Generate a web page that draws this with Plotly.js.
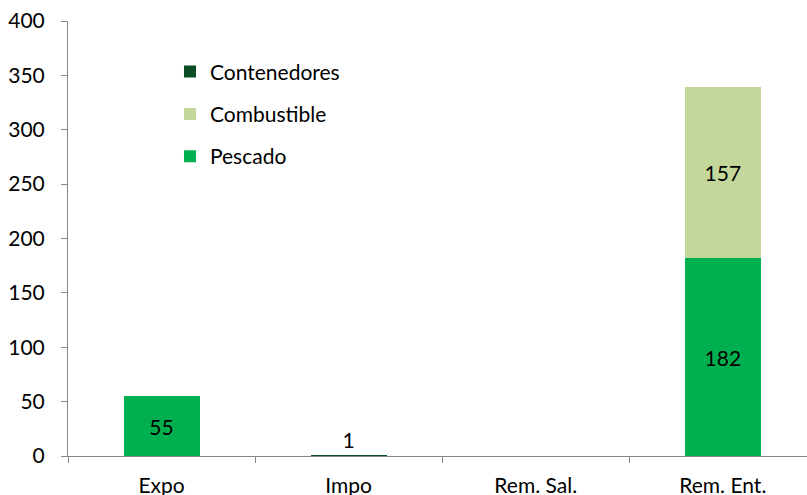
<!DOCTYPE html>
<html>
<head>
<meta charset="utf-8">
<script src="https://cdn.plot.ly/plotly-3.0.1.min.js"></script>
<style>html,body{margin:0;padding:0;background:#fff;}#chart{width:807px;height:495px;}</style>
</head>
<body>
<div id="chart"></div>
<script>
var categories = ["Expo", "Impo", "Rem. Sal.", "Rem. Ent."];
var pescado = [55, null, null, 182];
var combustible = [null, null, null, 157];
var contenedores = [null, 1, null, null];
var yTicks = [0, 50, 100, 150, 200, 250, 300, 350, 400];

var font = {family: "Lato, 'Noto Sans', sans-serif", size: 21, color: "#000"};
var barW = 0.406;

function lbl(arr) { return arr.map(function(v){ return v == null ? "" : String(v); }); }

var traces = [
  {type: "bar", name: "Pescado", x: categories, y: pescado, width: barW,
   marker: {color: "#00B050"}, text: lbl(pescado), textposition: "inside",
   insidetextanchor: "middle", textfont: font, legendgroup: "a", legendrank: 3, hoverinfo: "y"},
  {type: "bar", name: "Combustible", x: categories, y: combustible, width: barW,
   marker: {color: "#C4D79B"}, text: lbl(combustible), textposition: "inside",
   insidetextanchor: "middle", textfont: font, legendgroup: "b", legendrank: 2, hoverinfo: "y"},
  {type: "bar", name: "Contenedores", x: categories, y: contenedores, width: barW,
   marker: {color: "#0B4D24"}, text: lbl(contenedores), textposition: "outside",
   textfont: font, cliponaxis: false, legendgroup: "c", legendrank: 1, hoverinfo: "y"}
];

var layout = {
  width: 807, height: 495,
  margin: {l: 68, r: 0, t: 21, b: 39},
  barmode: "stack",
  paper_bgcolor: "#fff", plot_bgcolor: "#fff",
  font: font,
  showlegend: true,
  legend: {x: 0.138, y: 0.93, xanchor: "left", yanchor: "top",
           traceorder: "grouped", tracegroupgap: 12,
           font: {family: font.family, size: 21, color: "#000"},
           itemwidth: 30, bgcolor: "rgba(0,0,0,0)"},
  xaxis: {type: "category", range: [-0.5, 3.45], showline: true, linecolor: "#868686", linewidth: 1,
          ticks: "outside", tickson: "boundaries", ticklen: 6, tickcolor: "#868686",
          showgrid: false, zeroline: false, ticklabelstandoff: 11,
          tickfont: font},
  yaxis: {range: [0, 400], tickvals: yTicks, ticktext: yTicks.map(String), showline: true,
          linecolor: "#868686", linewidth: 1, ticks: "outside", ticklen: 6, tickcolor: "#868686",
          showgrid: false, zeroline: false, tickfont: font, ticklabelstandoff: 12}
};

Plotly.newPlot("chart", traces, layout, {displayModeBar: false, staticPlot: true});
</script>
</body>
</html>
